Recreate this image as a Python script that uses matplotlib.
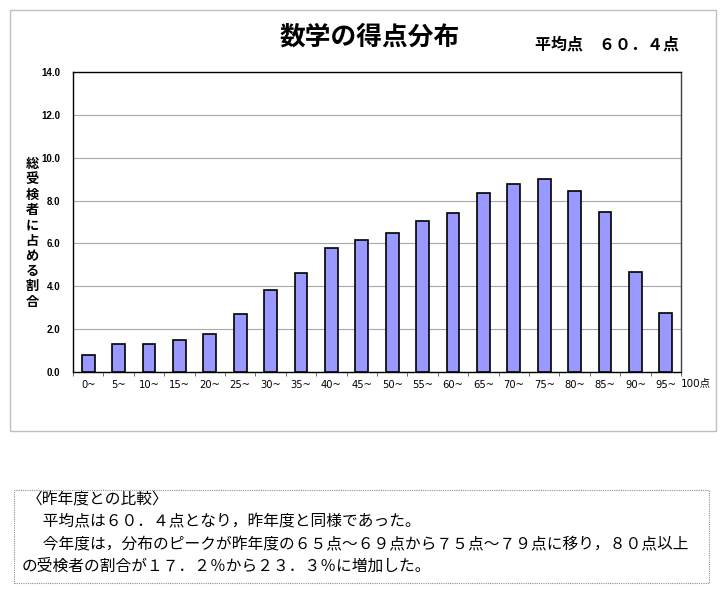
import matplotlib
matplotlib.use("Agg")
import matplotlib.pyplot as plt
from matplotlib.patches import Rectangle
import numpy as np

plt.rcParams['font.family'] = ['Noto Sans CJK JP', 'DejaVu Sans']

# score bins and share of all examinees (%)
bins = ["0~", "5~", "10~", "15~", "20~", "25~", "30~", "35~", "40~", "45~",
        "50~", "55~", "60~", "65~", "70~", "75~", "80~", "85~", "90~", "95~"]
shares = [0.81, 1.32, 1.29, 1.48, 1.79, 2.69, 3.84, 4.60, 5.79, 6.14,
          6.50, 7.05, 7.44, 8.35, 8.76, 8.99, 8.43, 7.49, 4.68, 2.74]
yticks = [0, 2, 4, 6, 8, 10, 12, 14]

title = "数学の得点分布"
mean_text = "平均点　６０．４点"
ylabel = "総受検者に占める割合"
end_label = "100点"
notes = [
    "〈昨年度との比較〉",
    "　平均点は６０．４点となり，昨年度と同様であった。",
    "　今年度は，分布のピークが昨年度の６５点～６９点から７５点～７９点に移り，８０点以上",
    "の受検者の割合が１７．２％から２３．３％に増加した。",
]

W, H = 721, 590
fig = plt.figure(figsize=(W / 100, H / 100), dpi=100)

# outer chart frame
fig.patches.append(Rectangle((10 / W, 1 - 431 / H), 706 / W, 421 / H,
                             transform=fig.transFigure, fill=False,
                             edgecolor="#c0c0c0", linewidth=1.0))
# dotted comment box
fig.patches.append(Rectangle((14 / W, 1 - 583 / H), 695 / W, 93 / H,
                             transform=fig.transFigure, fill=False,
                             edgecolor="#909090", linewidth=0.8,
                             linestyle=(0, (1, 1))))

ax = fig.add_axes([73 / W, 1 - 372 / H, 608 / W, 300 / H])
x = np.arange(len(bins))
ax.bar(x, shares, width=0.42, color="#9999ff", edgecolor="black",
       linewidth=1.2, zorder=3)

ax.set_xlim(-0.5, len(bins) - 0.5)
ax.set_ylim(0, 14)
ax.set_yticks(yticks)
ax.set_yticklabels([f"{v:.1f}" for v in yticks],
                   fontsize=7, fontweight="bold", family=["Liberation Sans"])
ax.set_xticks(x)
ax.set_xticklabels(bins, fontsize=7.2, family=["DejaVu Sans"])
ax.set_xticks(np.arange(-0.5, len(bins)), minor=True)
ax.tick_params(axis="x", which="major", length=0, pad=6)
ax.tick_params(axis="x", which="minor", length=3, width=0.6, color="#555555")
ax.tick_params(axis="y", length=0, pad=9)
ax.grid(axis="y", color="#a8a8a8", linewidth=0.8, zorder=0)
for s in ax.spines.values():
    s.set_linewidth(1.0)
    s.set_color("black")
ax.spines["right"].set_color("#404040")

ax.annotate(end_label, xy=(19.5, 0), xycoords="data",
            xytext=(0, -8), textcoords="offset points",
            fontsize=7.5, ha="left", va="center",
            family=["DejaVu Sans", "Noto Sans CJK JP"])

# stacked vertical y label
for i, ch in enumerate(ylabel):
    fig.text(32 / W, 1 - (164 + i * 15.3) / H, ch, fontsize=9.5,
             fontweight="bold", ha="center", va="center")

fig.text(370 / W, 1 - 37 / H, title, fontsize=18.5, fontweight="bold",
         ha="center", va="center")
fig.text(535 / W, 1 - 45 / H, mean_text, fontsize=11.5, fontweight="bold",
         ha="left", va="center")

note_pos = [(27, 500), (27, 522), (27, 545), (22, 566)]
for (nx, ny), line in zip(note_pos, notes):
    fig.text(nx / W, 1 - ny / H, line, fontsize=11.3, ha="left", va="center")

fig.savefig("out.png", dpi=100)
